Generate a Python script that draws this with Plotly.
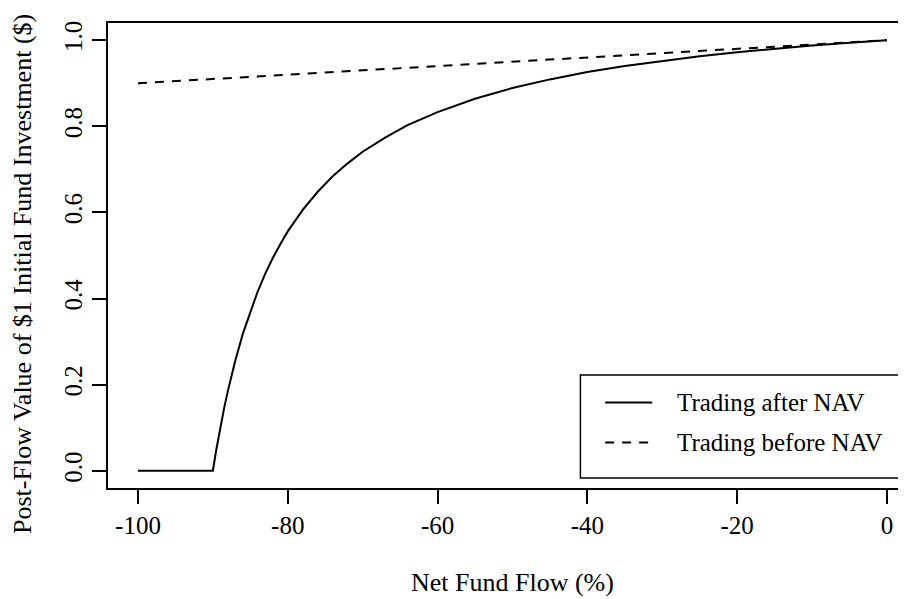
import plotly.graph_objects as go

# Net fund flow (%) and post-flow value of $1
flow_after = [-100, -90, -89.5, -89, -88.5, -88, -87, -86, -85, -84, -83, -82, -81, -80,
              -78, -76, -74, -72, -70, -67, -64, -60, -55, -50, -45, -40, -35, -30,
              -25, -20, -15, -10, -5, 0]
value_after = [0.0, 0.0, 0.053, 0.101, 0.145, 0.185, 0.256, 0.318, 0.370, 0.417, 0.458,
               0.494, 0.526, 0.556, 0.606, 0.648, 0.684, 0.714, 0.741, 0.774, 0.803,
               0.833, 0.864, 0.889, 0.909, 0.926, 0.940, 0.952, 0.963, 0.972, 0.980,
               0.988, 0.994, 1.0]

flow_before = [-100, 0]
value_before = [0.9, 1.0]

x_ticks = [-100, -80, -60, -40, -20, 0]
y_ticks = [0.0, 0.2, 0.4, 0.6, 0.8, 1.0]
legend_labels = ['Trading after NAV', 'Trading before NAV']

FONT = 'Liberation Serif'
fs = 25

fig = go.Figure()
fig.add_trace(go.Scatter(x=flow_after, y=value_after, mode='lines',
                         line=dict(color='black', width=2), name=legend_labels[0],
                         showlegend=False))
fig.add_trace(go.Scatter(x=flow_before, y=value_before, mode='lines',
                         line=dict(color='black', width=2, dash='9px,8px'),
                         name=legend_labels[1], showlegend=False))

# legend drawn R-style: box, line samples, labels
fig.add_shape(type='rect', xref='paper', yref='paper', x0=0.592, x1=0.995,
              y0=0.0215, y1=0.243, line=dict(color='black', width=1.5))
for i, (lab, dash) in enumerate(zip(legend_labels, ['solid', '9px,8px'])):
    yy = 0.184 - i * 0.086
    fig.add_shape(type='line', xref='paper', yref='paper', x0=0.623, x1=0.682,
                  y0=yy, y1=yy, line=dict(color='black', width=2, dash=dash))
    fig.add_annotation(x=0.71, y=yy, xref='paper', yref='paper', text=lab,
                       showarrow=False, xanchor='left', yanchor='middle',
                       font=dict(family=FONT, size=fs, color='black'))

# axis titles placed as in the reference
fig.add_annotation(x=(512 - 108) / 798, y=-(582 - 488) / 465, xref='paper', yref='paper',
                   text='Net Fund Flow (%)', showarrow=False,
                   xanchor='center', yanchor='middle',
                   font=dict(family=FONT, size=26, color='black'))
fig.add_annotation(x=-(108 - 22) / 798, y=(488 - 274) / 465, xref='paper', yref='paper',
                   text='Post-Flow Value of $1 Initial Fund Investment ($)', textangle=-90,
                   showarrow=False, xanchor='center', yanchor='middle',
                   font=dict(family=FONT, size=26, color='black'))

# page body has an 8px margin, so the figure is 8px smaller and margins shifted
fig.update_layout(
    width=898, height=591,
    margin=dict(l=100, r=0, t=15, b=111),
    paper_bgcolor='white', plot_bgcolor='white',
    font=dict(family=FONT, size=fs, color='black'),
    xaxis=dict(range=[-104, 2.55], tickvals=x_ticks, ticktext=[str(v) for v in x_ticks],
               ticks='outside', ticklen=14, tickwidth=2, tickcolor='black',
               showline=True, mirror=True, linecolor='black', linewidth=2,
               showgrid=False, zeroline=False, automargin=False),
    yaxis=dict(range=[-0.04, 1.04], tickvals=y_ticks, ticktext=['%.1f' % v for v in y_ticks],
               tickangle=-90, ticks='outside', ticklen=14, tickwidth=2, tickcolor='black',
               showline=True, linecolor='black', linewidth=2,
               showgrid=False, zeroline=False, automargin=False),
)

fig.write_html('out.html')
